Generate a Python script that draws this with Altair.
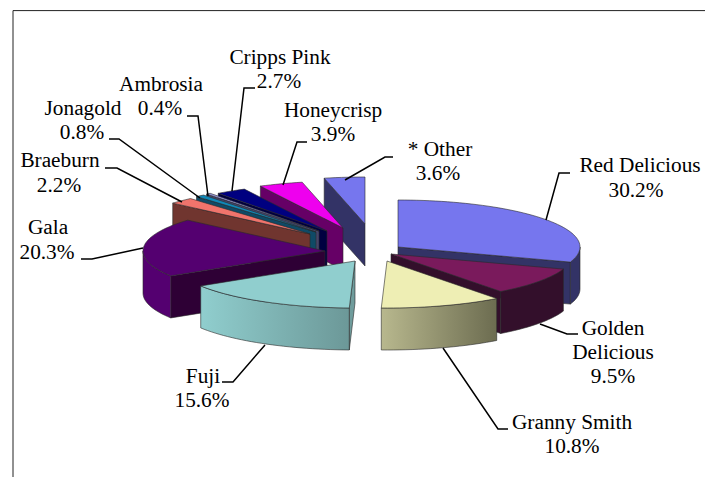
import math
import altair as alt
import pandas as pd

# ---- chart values
NAMES = ["Red Delicious", "Golden Delicious", "Granny Smith", "Fuji", "Gala", "Braeburn",
         "Jonagold", "Ambrosia", "Cripps Pink", "Honeycrisp", "* Other"]
SHARES = [30.2, 9.5, 10.8, 15.6, 20.3, 2.2, 0.8, 0.4, 2.7, 3.9, 3.6]

# ---- layout and style (separate from the data)
RX, RY, DEPTH = 182, 47, 42
W, H = 697, 469
OFFSET = 8
APEX = {"Red Delicious": (398, 246), "Golden Delicious": (391, 253), "Granny Smith": (387, 260),
        "Fuji": (355, 260), "Gala": (325, 250), "Braeburn": (310, 233), "Jonagold": (316, 231),
        "Ambrosia": (319, 230), "Cripps Pink": (327, 230), "Honeycrisp": (343, 227), "* Other": (365, 223)}
TOP = {"Red Delicious": "#7676ee", "Golden Delicious": "#7a1a5c", "Granny Smith": "#eeeeb4",
       "Fuji": "#90cece", "Gala": "#540070", "Braeburn": "#f0746c", "Jonagold": "#1088b8",
       "Ambrosia": "#9a9ae0", "Cripps Pink": "#000080", "Honeycrisp": "#ee00ee", "* Other": "#7676ee"}
WALL = {"Red Delicious": "#333366", "Golden Delicious": "#330f2b", "Granny Smith": "#8e8e6c",
        "Fuji": "#6f9c9c", "Gala": "#2e0035", "Braeburn": "#70352f", "Jonagold": "#0f4a66",
        "Ambrosia": "#45456a", "Cripps Pink": "#000040", "Honeycrisp": "#660066", "* Other": "#333366"}
OUTER = {"Gala": "#540070"}
GRAD = {"Granny Smith": ("#b8b88e", "#6c6c50"), "Fuji": ("#90cece", "#6c9898")}
ORDER = ["* Other", "Honeycrisp", "Cripps Pink", "Ambrosia", "Jonagold", "Braeburn", "Gala",
         "Red Delicious", "Golden Delicious", "Granny Smith", "Fuji"]
LABELS = [
    ("Cripps Pink", 280, 57), ("2.7%", 279, 81), ("Ambrosia", 161, 84), ("0.4%", 160, 108),
    ("Honeycrisp", 333, 110), ("3.9%", 333, 134), ("* Other", 440, 149), ("3.6%", 438, 173),
    ("Red Delicious", 640, 165), ("30.2%", 636, 190), ("Jonagold", 83, 108), ("0.8%", 82, 132),
    ("Braeburn", 60, 160), ("2.2%", 59, 185), ("Gala", 48, 227), ("20.3%", 47, 252),
    ("Golden", 613, 328), ("Delicious", 613, 352), ("9.5%", 613, 376),
    ("Granny Smith", 572, 422), ("10.8%", 572, 446), ("Fuji", 203, 376), ("15.6%", 202, 400),
]
LEADERS = [
    [(255, 87), (244, 87), (232, 190)], [(187, 115), (198, 115), (208, 195)],
    [(109, 138), (119, 138), (200, 197)], [(105, 167), (117, 167), (182, 201)],
    [(81, 258), (92, 258), (143, 247)], [(307, 141), (297, 141), (283, 184)],
    [(393, 156), (385, 156), (345, 179)], [(570, 172), (559, 172), (546, 219)],
    [(578, 333), (567, 333), (540, 323)], [(508, 428), (498, 428), (443, 347)],
    [(222, 381), (233, 381), (265, 344)],
]

X = alt.Scale(domain=[OFFSET, OFFSET + W], range=[0, W])
Y = alt.Scale(domain=[OFFSET + 1, OFFSET + 1 + H], range=[0, H])


def path_chart(points, **mark):
    df = pd.DataFrame({"x": [p[0] for p in points], "y": [p[1] for p in points],
                       "o": list(range(len(points)))})
    return alt.Chart(df).mark_line(**mark).encode(
        x=alt.X("x:Q", scale=X, axis=None),
        y=alt.Y("y:Q", scale=Y, axis=None),
        order="o:Q",
    )


def poly(points, fill):
    return path_chart(list(points) + [points[0]], fill=fill, stroke="#2a2a2a",
                      strokeWidth=0.6, strokeJoin="round")


def pt(name, deg, drop=0):
    a = math.radians(deg)
    cx, cy = APEX[name]
    return (cx + RX * math.sin(a), cy - RY * math.cos(a) + drop)


def arc(name, a0, a1, drop=0):
    n = max(2, int(abs(a1 - a0) / 2) + 2)
    return [pt(name, a0 + (a1 - a0) * i / (n - 1), drop) for i in range(n)]


starts = {}
run = 0.0
for nm, share in zip(NAMES, SHARES):
    starts[nm] = (run / 100 * 360, (run + share) / 100 * 360)
    run += share

layers = []
for nm in ORDER:
    a0, a1 = starts[nm]
    ax, ay = APEX[nm]
    apex, apex_d = (ax, ay), (ax, ay + DEPTH)
    if a0 >= 180:  # radial cut at the start of the slice faces the viewer
        layers.append(poly([apex, pt(nm, a0), pt(nm, a0, DEPTH), apex_d], WALL[nm]))
    if a1 <= 180:  # radial cut at the end of the slice faces the viewer
        layers.append(poly([apex, pt(nm, a1), pt(nm, a1, DEPTH), apex_d], WALL[nm]))
    lo, hi = max(a0, 90), min(a1, 270)
    if hi > lo:
        fill = OUTER.get(nm, WALL[nm])
        if nm in GRAD:
            left, right = GRAD[nm]
            fill = {"gradient": "linear", "x1": 0, "y1": 0, "x2": 1, "y2": 0,
                    "stops": [{"offset": 0, "color": left}, {"offset": 1, "color": right}]}
        layers.append(poly(arc(nm, lo, hi) + arc(nm, hi, lo, DEPTH), fill))
    layers.append(poly([apex] + arc(nm, a0, a1), TOP[nm]))

for line in LEADERS:
    layers.append(path_chart(line, stroke="black", strokeWidth=1.5))

layers.append(path_chart([(13, OFFSET + 1 + H), (13, 9.6), (OFFSET + W, 9.6)], stroke="#222222", strokeWidth=1))

text_df = pd.DataFrame(LABELS, columns=["t", "x", "y"])
layers.append(alt.Chart(text_df).mark_text(font="Liberation Serif", fontSize=21.3, color="black",
                                           align="center", baseline="middle").encode(
    x=alt.X("x:Q", scale=X, axis=None), y=alt.Y("y:Q", scale=Y, axis=None), text="t:N"))

chart = alt.layer(*layers).properties(width=W, height=H, padding=0).configure_view(stroke=None)
chart.save("out.html", embed_options={"renderer": "svg", "actions": False})
